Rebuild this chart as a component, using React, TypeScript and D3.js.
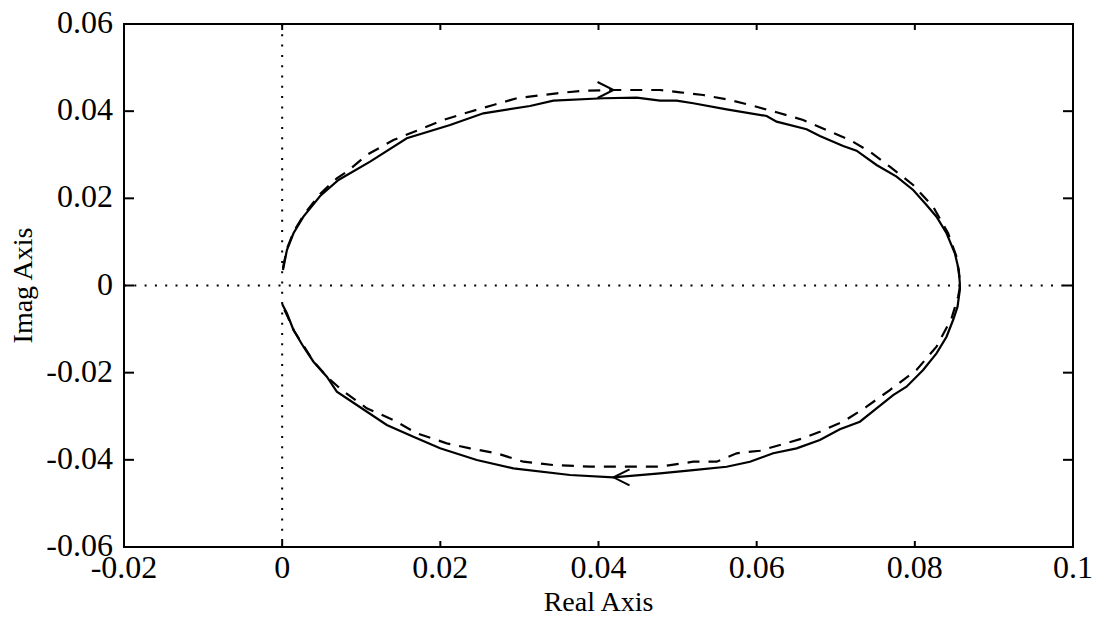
import React from "react";
import * as d3 from "d3";

const W = 1099;
const H = 637;

const xTicks = [-0.02, 0, 0.02, 0.04, 0.06, 0.08, 0.1];
const xTickLabels = ["-0.02", "0", "0.02", "0.04", "0.06", "0.08", "0.1"];
const yTicks = [-0.06, -0.04, -0.02, 0, 0.02, 0.04, 0.06];
const yTickLabels = ["-0.06", "-0.04", "-0.02", "0", "0.02", "0.04", "0.06"];

// Solid curve (real, imag)
const solidRe = [
  0.0001, 0.0006, 0.00143, 0.00269, 0.0048, 0.00712, 0.01112, 0.01576, 0.02123, 0.02544,
  0.03134, 0.03429, 0.04061, 0.04483, 0.04777, 0.04988, 0.05198, 0.0562, 0.06126, 0.06252,
  0.06631, 0.06799, 0.07094, 0.07263, 0.07516, 0.07769, 0.07979, 0.08148, 0.08274, 0.08401,
  0.08506, 0.08556, 0.08569,
  0.08569, 0.0854, 0.08484, 0.08401, 0.08274, 0.08105, 0.07895, 0.07726, 0.07516, 0.07305,
  0.07052, 0.06799, 0.06505, 0.06209, 0.05915, 0.0562, 0.05198, 0.04777, 0.04187, 0.0364,
  0.02923, 0.02461, 0.01997, 0.01659, 0.01323, 0.00944, 0.00691, 0.00565, 0.00396, 0.00269,
  0.00143, 0.0006, 0.0,
];
const solidIm = [
  0.00356, 0.00815, 0.01198, 0.01579, 0.02054, 0.02421, 0.02841, 0.03378, 0.03683, 0.03951,
  0.04119, 0.0424, 0.04296, 0.04309, 0.0424, 0.0424, 0.04181, 0.04043, 0.03889, 0.03759,
  0.03584, 0.0343, 0.03201, 0.03093, 0.02765, 0.02497, 0.02191, 0.01847, 0.01579, 0.01198,
  0.00739, 0.00356, 0.0005,
  -0.00103, -0.00486, -0.00792, -0.01175, -0.01556, -0.01939, -0.02322, -0.02513, -0.02818, -0.03125,
  -0.033, -0.03545, -0.03736, -0.0385, -0.04043, -0.04158, -0.04234, -0.04309, -0.04401, -0.04348,
  -0.04195, -0.04004, -0.03736, -0.0347, -0.03201, -0.02742, -0.02437, -0.02093, -0.01749, -0.01404,
  -0.01021, -0.00638, -0.00425,
];

// Dashed curve (real, imag)
const dashedRe = [
  0.0001, 0.00063, 0.0015, 0.0028, 0.0048, 0.00691, 0.00818, 0.0107, 0.01407, 0.01702,
  0.02039, 0.02376, 0.0267, 0.02966, 0.03472, 0.03808, 0.04187, 0.04777, 0.0503, 0.05325,
  0.05662, 0.05915, 0.06252, 0.06588, 0.06884, 0.07179, 0.07431, 0.07684, 0.07979, 0.08231,
  0.08421, 0.08527, 0.08569,
  0.08569, 0.08547, 0.08464, 0.08274, 0.08021, 0.07684, 0.0739, 0.07094, 0.06799, 0.06588,
  0.06294, 0.06041, 0.05747, 0.05494, 0.05198, 0.04777, 0.03893, 0.03429, 0.0305, 0.02713,
  0.02376, 0.02082, 0.01702, 0.01407, 0.0107, 0.00754, 0.0057, 0.004, 0.0028, 0.0015,
  0.0006, 0.0,
];
const dashedIm = [
  0.004, 0.0086, 0.0125, 0.0164, 0.021, 0.0246, 0.02611, 0.02995, 0.03339, 0.03552,
  0.03798, 0.03988, 0.04142, 0.04296, 0.0441, 0.0447, 0.04486, 0.04486, 0.04433, 0.04371,
  0.04256, 0.04142, 0.03974, 0.03798, 0.03568, 0.03339, 0.0307, 0.02726, 0.02306, 0.01808,
  0.01198, 0.00661, 0.00126,
  -0.00057, -0.00257, -0.00753, -0.01404, -0.01939, -0.02398, -0.02781, -0.03125, -0.03355, -0.03506,
  -0.0366, -0.03791, -0.0385, -0.04043, -0.04043, -0.04158, -0.04158, -0.04119, -0.04043, -0.0385,
  -0.03736, -0.03621, -0.03391, -0.03086, -0.02818, -0.02398, -0.021, -0.0175, -0.0141, -0.0104,
  -0.0068, -0.0045,
];

// Direction arrows: position (real, imag) and direction (+1 right, -1 left)
const arrowRe = [0.0419, 0.0419];
const arrowIm = [0.04486, -0.04401];
const arrowDir = [1, -1];

export default function App() {
  const left = 124;
  const right = 1073;
  const top = 24;
  const bottom = 547;
  const x = d3.scaleLinear().domain([-0.02, 0.1]).range([left, right]);
  const y = d3.scaleLinear().domain([-0.06, 0.06]).range([bottom, top]);

  const line = d3
    .line<[number, number]>()
    .x((d) => x(d[0]))
    .y((d) => y(d[1]));

  const solidPts: [number, number][] = solidRe.map((r, i) => [r, solidIm[i]]);
  const dashedPts: [number, number][] = dashedRe.map((r, i) => [r, dashedIm[i]]);

  const font = "'Liberation Serif', 'Times New Roman', serif";
  const tickFs = 32;

  return (
    <svg
      width={W}
      height={H}
      style={{ position: "absolute", left: 0, top: 0, background: "#fff" }}
      fontFamily={font}
    >
      <rect x={0} y={0} width={W} height={H} fill="#fff" />
      {/* zero reference lines */}
      <line
        x1={x(0)}
        x2={x(0)}
        y1={top}
        y2={bottom}
        stroke="#000"
        strokeWidth={2}
        strokeDasharray="2,8.3"
      />
      <line
        x1={left}
        x2={right}
        y1={y(0)}
        y2={y(0)}
        stroke="#000"
        strokeWidth={2}
        strokeDasharray="2,8.3"
      />
      {/* curves */}
      <path
        d={line(dashedPts) || ""}
        fill="none"
        stroke="#000"
        strokeWidth={2.2}
        strokeDasharray="12,9"
      />
      <path d={line(solidPts) || ""} fill="none" stroke="#000" strokeWidth={2.2} />
      {/* arrows */}
      {arrowRe.map((r, i) => {
        const tx = x(r);
        const ty = y(arrowIm[i]);
        const d = arrowDir[i];
        return (
          <path
            key={i}
            d={`M${tx - d * 16},${ty - 8}L${tx},${ty}L${tx - d * 16},${ty + 8}`}
            fill="none"
            stroke="#000"
            strokeWidth={2}
          />
        );
      })}
      {/* axes box */}
      <rect
        x={left}
        y={top}
        width={right - left}
        height={bottom - top}
        fill="none"
        stroke="#000"
        strokeWidth={2}
      />
      {/* x ticks */}
      {xTicks.map((t, i) => (
        <g key={"xt" + i}>
          <line x1={x(t)} x2={x(t)} y1={bottom} y2={bottom - 6} stroke="#000" strokeWidth={2} />
          <line x1={x(t)} x2={x(t)} y1={top} y2={top + 6} stroke="#000" strokeWidth={2} />
          <text x={x(t)} y={578} textAnchor="middle" fontSize={tickFs} fill="#000">
            {xTickLabels[i]}
          </text>
        </g>
      ))}
      {/* y ticks */}
      {yTicks.map((t, i) => (
        <g key={"yt" + i}>
          <line x1={left} x2={left + 10} y1={y(t)} y2={y(t)} stroke="#000" strokeWidth={2} />
          <line x1={right} x2={right - 10} y1={y(t)} y2={y(t)} stroke="#000" strokeWidth={2} />
          <text x={113} y={y(t) + 9} textAnchor="end" fontSize={tickFs} fill="#000">
            {yTickLabels[i]}
          </text>
        </g>
      ))}
      {/* axis labels */}
      <text x={(left + right) / 2} y={611} textAnchor="middle" fontSize={28} fill="#000">
        Real Axis
      </text>
      <text
        transform={`translate(32,${(top + bottom) / 2}) rotate(-90)`}
        textAnchor="middle"
        fontSize={28}
        fill="#000"
      >
        Imag Axis
      </text>
    </svg>
  );
}
